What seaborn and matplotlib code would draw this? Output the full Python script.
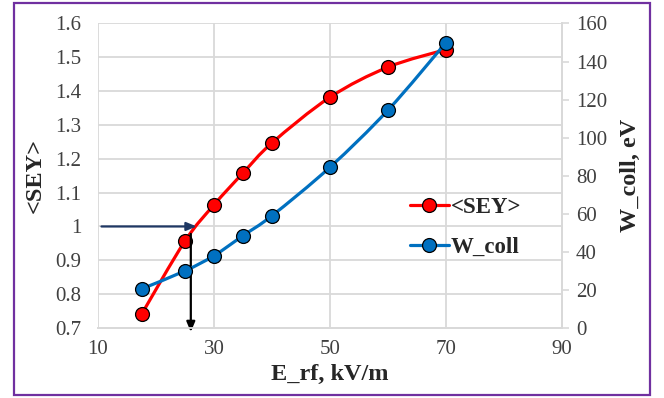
import numpy as np
import matplotlib
matplotlib.use("Agg")
import matplotlib.pyplot as plt
from matplotlib.path import Path
from matplotlib.patches import PathPatch, Rectangle
from matplotlib.lines import Line2D
import seaborn as sns

# Field strength and the two measured quantities
e_rf = [17.5, 25, 30, 35, 40, 50, 60, 70]
sey = [0.74, 0.957, 1.064, 1.158, 1.247, 1.382, 1.471, 1.523]
w_coll = [20.5, 30, 38, 48.5, 59, 84.5, 114.5, 150]

x_ticks = [10, 30, 50, 70, 90]
sey_ticks = [0.7, 0.8, 0.9, 1.0, 1.1, 1.2, 1.3, 1.4, 1.5, 1.6]
w_ticks = [0, 20, 40, 60, 80, 100, 120, 140, 160]
sey_tick_labels = ["0.7", "0.8", "0.9", "1", "1.1", "1.2", "1.3", "1.4", "1.5", "1.6"]

RED = "#FF0000"
BLUE = "#0070C0"
NAVY = "#1F3864"
GRID = "#D9D9D9"
TICK_TXT = "#404040"

sns.set_style("white")
plt.rcParams["font.family"] = ["Liberation Serif", "DejaVu Serif"]


def smooth_path(xs, ys):
    """Cubic Bezier path through the points (Catmull-Rom style smoothing)."""
    pts = np.column_stack([xs, ys]).astype(float)
    n = len(pts)
    verts = [pts[0]]
    codes = [Path.MOVETO]
    for i in range(n - 1):
        p0 = pts[i - 1] if i > 0 else pts[i]
        p1 = pts[i]
        p2 = pts[i + 1]
        p3 = pts[i + 2] if i + 2 < n else pts[i + 1]
        c1 = p1 + (p2 - p0) / 6.0
        c2 = p2 - (p3 - p1) / 6.0
        verts += [c1, c2, p2]
        codes += [Path.CURVE4] * 3
    return Path(verts, codes)


fig = plt.figure(figsize=(6.64, 3.98), dpi=100)
ax = fig.add_axes([0.1476, 0.176, 0.6988, 0.765])
ax2 = ax.twinx()

# Gridlines on the primary axes
ax.set_xlim(10, 90)
ax.set_ylim(0.7, 1.6)
ax.set_xticks(x_ticks)
ax.set_yticks(sey_ticks)
ax.set_yticklabels(sey_tick_labels)
ax.grid(True, color=GRID, linewidth=1.3)
ax.set_axisbelow(True)
ax2.set_ylim(0, 160)
ax2.set_yticks(w_ticks)
ax2.grid(False)
ax2.patch.set_visible(False)

for a in (ax, ax2):
    for side in ("left", "top"):
        a.spines[side].set_visible(False)
    a.spines["bottom"].set_color(GRID)
    a.spines["bottom"].set_linewidth(1.3)
    a.spines["right"].set_color(GRID)
    a.spines["right"].set_linewidth(1.3)

ax.tick_params(axis="y", length=0, pad=12, labelsize=15, labelcolor=TICK_TXT)
ax.tick_params(axis="x", length=0, pad=9, labelsize=15, labelcolor=TICK_TXT)
ax2.tick_params(axis="y", length=5, width=1.2, color=GRID, pad=5,
                labelsize=15, labelcolor=TICK_TXT)

# Smoothed connecting curves
ax.add_patch(PathPatch(smooth_path(e_rf, sey), facecolor="none",
                       edgecolor=RED, linewidth=2.3, zorder=3))
ax2.add_patch(PathPatch(smooth_path(e_rf, w_coll), facecolor="none",
                        edgecolor=BLUE, linewidth=2.3, zorder=3))

# Data markers
sns.scatterplot(x=e_rf, y=sey, ax=ax, color=RED, edgecolor="black",
                linewidth=0.9, s=100, zorder=4)
sns.scatterplot(x=e_rf, y=w_coll, ax=ax2, color=BLUE, edgecolor="black",
                linewidth=0.9, s=100, zorder=4)

# Threshold guide arrows
ax.annotate("", xy=(27.0, 1.0), xytext=(10.6, 1.0),
            arrowprops=dict(arrowstyle="-|>,head_length=0.6,head_width=0.25",
                            color=NAVY, lw=1.6, shrinkA=0, shrinkB=0),
            zorder=5)
ax.annotate("", xy=(26.0, 0.688), xytext=(26.0, 0.978),
            arrowprops=dict(arrowstyle="-|>,head_length=0.6,head_width=0.25",
                            color="black", lw=1.6, shrinkA=0, shrinkB=0),
            annotation_clip=False, zorder=5)

ax.set_xlabel("E_rf, kV/m", fontsize=17.5, fontweight="bold", labelpad=3)
ax.set_ylabel("<SEY>", fontsize=17.5, fontweight="bold", labelpad=7)
ax2.set_ylabel("W_coll, eV", fontsize=17.5, fontweight="bold", labelpad=9)

handles = [
    Line2D([0], [0], color=RED, lw=2.3, marker="o", markersize=10,
           markerfacecolor=RED, markeredgecolor="black", markeredgewidth=0.9),
    Line2D([0], [0], color=BLUE, lw=2.3, marker="o", markersize=10,
           markerfacecolor=BLUE, markeredgecolor="black", markeredgewidth=0.9),
]
ax2.legend(handles, ["<SEY>", "W_coll"], loc="center left",
           bbox_to_anchor=(0.627, 0.33), frameon=False, handlelength=1.7,
           handletextpad=0.1, labelspacing=0.85,
           prop=dict(family="Liberation Serif", weight="bold", size=16.5))

# Purple frame around the whole chart
fig.patches.append(Rectangle((0.021, 0.008), 0.958, 0.984, transform=fig.transFigure,
                             fill=False, edgecolor="#7030A0", linewidth=1.6))

fig.savefig("out.png", dpi=100)
